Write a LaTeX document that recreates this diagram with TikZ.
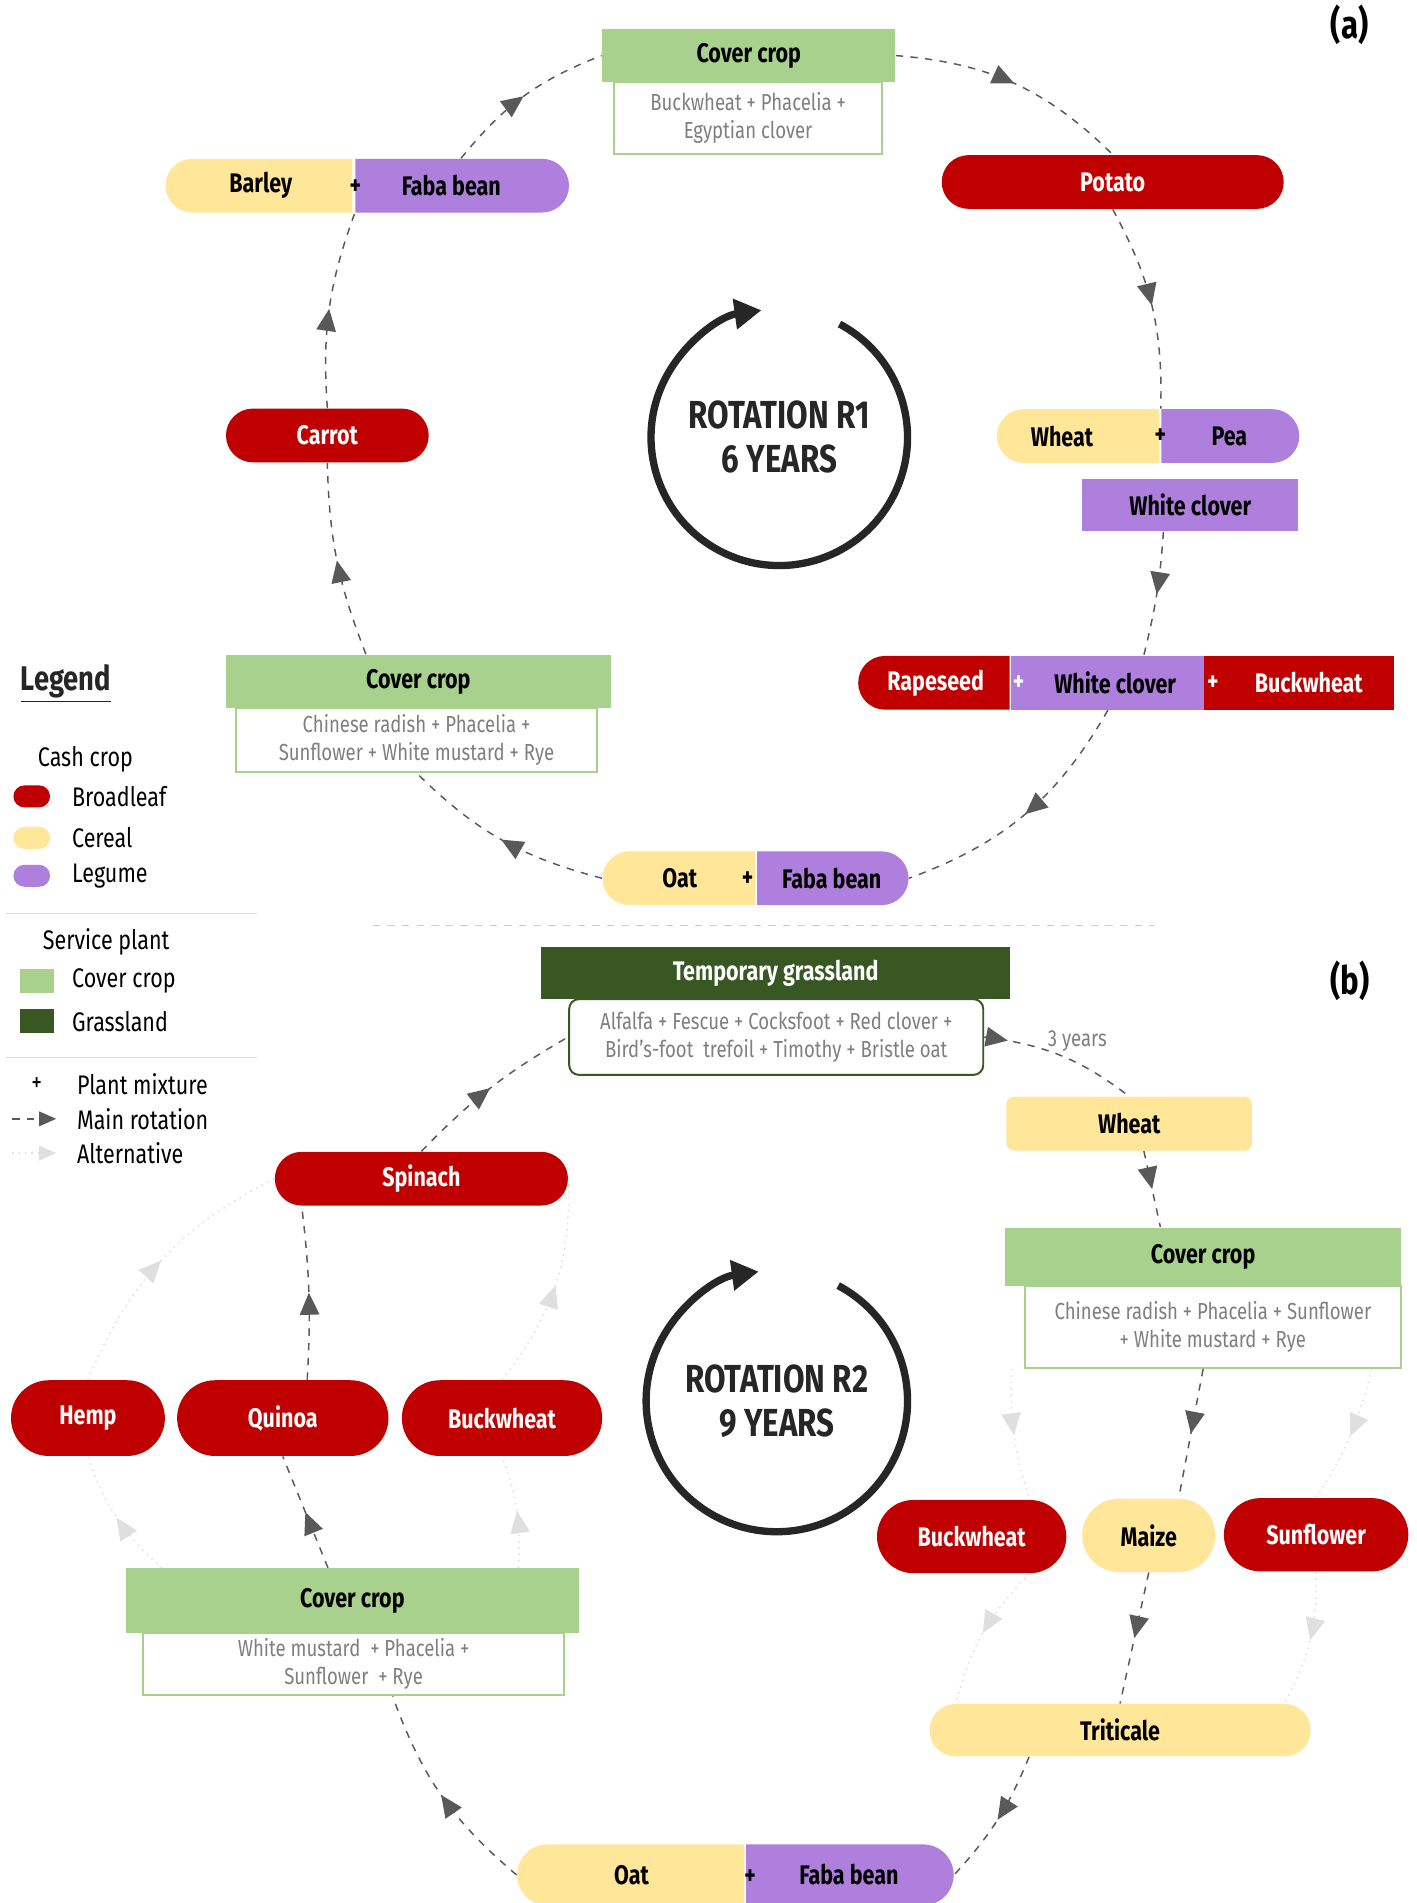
\documentclass[tikz,border=0pt]{standalone}
\usepackage{fontspec}
\setmainfont{Fira Sans}[FakeStretch=0.8]
\usetikzlibrary{calc,shapes.misc,shapes.geometric,arrows.meta,decorations.markings}
\definecolor{broad}{HTML}{C00000}
\definecolor{cereal}{HTML}{FFE699}
\definecolor{legume}{HTML}{AE7FDC}
\definecolor{cover}{HTML}{A9D18E}
\definecolor{grass}{HTML}{385723}
\definecolor{txtgray}{HTML}{7F7F7F}
\definecolor{ink}{HTML}{262626}
\tikzset{
  lab/.style={font=\bfseries\fontsize{11}{12}\selectfont},
  cash/.style={rounded rectangle, fill=#1, lab, inner sep=0pt, minimum height=22pt},
  svc/.style={rectangle, fill=#1, lab, inner sep=0pt, minimum height=22pt},
  mix/.style={draw=#1, fill=white, text=txtgray, font=\fontsize{9.5}{11.5}\selectfont,
    align=center, inner sep=0pt, line width=0.8pt},
  main/.style={draw=gray!70!black, dashed, line width=0.6pt, postaction={decorate},
    decoration={markings, mark=at position #1 with {\arrow[solid,fill=gray!70!black]{Triangle[length=9pt,width=8pt]}}}},
  main/.default=0.5,
  alt/.style={draw=gray!25, dotted, line width=0.6pt, postaction={decorate},
    decoration={markings, mark=at position #1 with {\arrow[solid,fill=gray!25]{Triangle[length=9pt,width=8pt]}}}},
  alt/.default=0.5,
  rot/.style={line width=3pt, ink, -{Triangle[length=11pt,width=12pt]}},
  rottxt/.style={font=\bfseries\fontsize{16}{18}\selectfont, text=ink, align=center}
}
\begin{document}
\begin{tikzpicture}[x=0.5pt,y=0.5pt]
\fill[white] (0,0) rectangle (1160,-1558);
\useasboundingbox (0,0) rectangle (1160,-1558);

% ---------- (a)
\node[font=\bfseries\fontsize{16}{18}\selectfont] (lbla) at (1105,-20) {(a)};
\node[svc=cover, minimum width=120pt] (cc1) at (613,-45.5) {Cover crop};
\node[mix=cover, minimum width=109.5pt, minimum height=29.5pt] (cc1b) at (612.5,-96.5) {Buckwheat + Phacelia +\\Egyptian clover};
\node[cash=broad, text=white, minimum width=140pt] (potato) at (911,-149) {Potato};
\node[cash=legume, rounded rectangle left arc=none, minimum width=87.5pt] (faba1) at (377.5,-152) {\hspace{-8pt}Faba bean};
\node[cash=cereal, rounded rectangle right arc=none, minimum width=76.5pt] (barley) at (213.5,-152) {Barley};
\node[lab] (pl1) at (291,-153) {+};
\node[cash=broad, text=white, minimum width=83pt] (carrot) at (268,-356.5) {Carrot};
\node[cash=legume, rounded rectangle left arc=none, minimum width=56.5pt] (pea) at (1006.5,-357) {Pea};
\node[cash=cereal, rounded rectangle right arc=none, minimum width=66.5pt] (wheat1) at (883.5,-357) {\hspace{-14pt}Wheat};
\node[lab] (pl2) at (950,-357) {+};
\node[svc=legume, minimum width=88.5pt, minimum height=21.5pt] (wclov1) at (974.5,-413.5) {White clover};
\node[cash=broad, text=white, rounded rectangle right arc=none, minimum width=62pt] (rape) at (766,-559) {Rapeseed};
\node[svc=legume, minimum width=79pt] (wclov2) at (907,-559) {\hspace{6pt}White clover};
\node[svc=broad, text=white, minimum width=77.5pt] (buckw1) at (1063.5,-559) {\hspace{8pt}Buckwheat};
\node[lab, text=white] (pl3) at (834,-559) {+};
\node[lab, text=white] (pl4) at (993,-559) {+};
\node[svc=cover, minimum width=157.5pt] (cc2) at (342.5,-558) {Cover crop};
\node[mix=cover, minimum width=148pt, minimum height=26pt] (cc2b) at (341,-606) {Chinese radish + Phacelia +\\Sunflower + White mustard + Rye};
\node[cash=legume, rounded rectangle left arc=none, minimum width=62pt] (faba2) at (681,-719) {Faba bean};
\node[cash=cereal, rounded rectangle right arc=none, minimum width=62.5pt] (oat1) at (556.5,-719) {Oat};
\node[lab] (pl5) at (612,-720) {+};
\coordinate (r1) at (638,-358);
\draw[rot] ($(r1)+(62:52.5pt)$) arc (62:-262:52.5pt);
\node[rottxt] (rot1) at (r1) {ROTATION R1\\6 YEARS};

\draw[main] (cc1.east) to[bend left=20] (potato.north);
\draw[main] (potato.south) to[bend left=15] (pea.north west);
\draw[main] ($(wclov1.south)+(-22,0)$) to[bend left=5] ($(wclov2.north east)+(-50,0)$);
\draw[main] (wclov2.south) to[bend left=20] (faba2.east);
\draw[main] (oat1.west) to[bend left=15] (cc2b.south);
\draw[main] (cc2.north west) ++(115,0) to[bend left=10] (carrot.south);
\draw[main] (carrot.north) to[bend left=12] (faba1.south west);
\draw[main] (faba1.north) to[bend left=15] (cc1.west);

% ---------- (b)
\draw[gray!40, dashed] (305,-758) -- (945,-758);
\node[font=\bfseries\fontsize{16}{18}\selectfont] (lblb) at (1105,-803) {(b)};
\node[svc=grass, text=white, minimum width=192pt, minimum height=21.5pt] (tg) at (635,-796.5) {Temporary grassland};
\node[mix=grass, rounded corners=4pt, minimum width=169.5pt, minimum height=31pt] (tgb) at (635.5,-849) {Alfalfa + Fescue + Cocksfoot + Red clover +\\Bird's-foot\ \ trefoil + Timothy + Bristle oat};
\node[text=txtgray, font=\fontsize{9.5}{11}\selectfont] (yrs) at (882,-852) {3 years};
\node[svc=cereal, rounded corners=3pt, minimum width=100.5pt] (wheat2) at (924.5,-920) {Wheat};
\node[svc=cover, minimum width=162pt, minimum height=24pt] (cc3) at (985,-1029) {Cover crop};
\node[mix=cover, minimum width=154pt, minimum height=33.5pt] (cc3b) at (993,-1086.5) {Chinese radish + Phacelia + Sunflower\\+ White mustard + Rye};
\node[cash=broad, text=white, minimum width=77.5pt, minimum height=30pt] (buckw2) at (795.5,-1258) {Buckwheat};
\node[cash=cereal, minimum width=54.5pt, minimum height=30pt] (maize) at (940.5,-1257) {Maize};
\node[cash=broad, text=white, minimum width=75.5pt, minimum height=30pt] (sunfl) at (1077.5,-1256.5) {Sunflower};
\node[cash=cereal, minimum width=156pt, minimum height=21.5pt] (trit) at (917,-1416.5) {Triticale};
\node[cash=legume, rounded rectangle left arc=none, minimum width=85pt, minimum height=25pt] (faba3) at (695,-1535) {Faba bean};
\node[cash=cereal, rounded rectangle right arc=none, minimum width=93pt, minimum height=25pt] (oat2) at (517,-1535) {Oat};
\node[lab] (pl6) at (614,-1537) {+};
\node[svc=cover, minimum width=185.5pt, minimum height=26.5pt] (cc4) at (288.5,-1310.5) {Cover crop};
\node[mix=cover, minimum width=172.5pt, minimum height=25.5pt] (cc4b) at (289.5,-1362.5) {White mustard\ \ + Phacelia +\\Sunflower\ \ + Rye};
\node[cash=broad, text=white, minimum width=63pt, minimum height=31pt] (hemp) at (72,-1161) {Hemp};
\node[cash=broad, text=white, minimum width=86.5pt, minimum height=31pt] (quinoa) at (231.5,-1161) {Quinoa};
\node[cash=broad, text=white, minimum width=82pt, minimum height=31pt] (buckw3) at (411,-1161) {Buckwheat};
\node[cash=broad, text=white, minimum width=120pt] (spinach) at (345,-965) {Spinach};
\coordinate (r2) at (636,-1147);
\draw[rot] ($(r2)+(62:53.5pt)$) arc (62:-262:53.5pt);
\node[rottxt] (rot2) at (r2) {ROTATION R2\\9 YEARS};

\draw[main=0.15] (tgb.east) to[bend left=15] (wheat2.north);
\draw[main] (wheat2.south) ++(12,0) -- (cc3.north west -| 950,0);
\draw[main] (cc3b.south) ++(-8,0) -- (maize.north east);
\draw[main] (maize.south) -- (trit.north);
\draw[main] (trit.south west) ++(60,0) to[bend left=10] (faba3.east);
\draw[main] (oat2.west) to[bend left=15] ($(cc4b.south)+(32,0)$);
\draw[main] (cc4.north) ++(-20,0) -- (quinoa.south);
\draw[main] (quinoa.north) ++(20,0) to[bend right=5] (spinach.south west);
\draw[main] (spinach.north) to[bend left=8] (tgb.west);
\draw[alt] (cc3b.south west) ++(-10,0) to[bend right=10] (buckw2.north east);
\draw[alt] (buckw2.south east) to[bend right=15] (trit.north west);
\draw[alt] (cc3b.south east) ++(-25,0) to[bend left=10] (sunfl.north);
\draw[alt] (sunfl.south) to[bend left=15] (trit.north east);
\draw[alt] (cc4.north west) ++(30,0) to[bend left=15] (hemp.south);
\draw[alt] (cc4.north east) ++(-50,0) to[bend right=12] (buckw3.south);
\draw[alt] (hemp.north) to[bend left=20] (spinach.west);
\draw[alt] (buckw3.north) to[bend right=20] (spinach.east);

% ---------- legend
\node[anchor=west, font=\bfseries\fontsize{14}{16}\selectfont, text=ink] (leg) at (10,-560) {\underline{Legend}};
\node[anchor=west, font=\fontsize{11}{13}\selectfont] (lcash) at (24,-622) {Cash crop};
\node[cash=broad, minimum width=15pt, minimum height=9pt] (ib) at (26,-652) {};
\node[cash=cereal, minimum width=15pt, minimum height=9pt] (ic) at (26,-686) {};
\node[cash=legume, minimum width=15pt, minimum height=9pt] (il) at (26,-717) {};
\node[anchor=west, font=\fontsize{11}{13}\selectfont] (tb) at (52,-652) {Broadleaf};
\node[anchor=west, font=\fontsize{11}{13}\selectfont] (tc) at (52,-686) {Cereal};
\node[anchor=west, font=\fontsize{11}{13}\selectfont] (tl) at (52,-717) {Legume};
\draw[gray!30] (5,-748) -- (210,-748);
\node[anchor=west, font=\fontsize{11}{13}\selectfont] (lsvc) at (28,-771) {Service plant};
\node[svc=cover, minimum width=14pt, minimum height=10pt] (icc) at (30,-803) {};
\node[svc=grass, minimum width=14pt, minimum height=10pt] (igr) at (30,-836) {};
\node[anchor=west, font=\fontsize{11}{13}\selectfont] (tcc) at (52,-803) {Cover crop};
\node[anchor=west, font=\fontsize{11}{13}\selectfont] (tgr) at (52,-836) {Grassland};
\draw[gray!30] (5,-866) -- (210,-866);
\node[font=\fontsize{11}{13}\selectfont] (ipl) at (30,-888) {+};
\node[anchor=west, font=\fontsize{11}{13}\selectfont] (tpl) at (56,-888) {Plant mixture};
\coordinate (m1) at (10,-916); \coordinate (m2) at (46,-916);
\coordinate (a1) at (10,-944); \coordinate (a2) at (46,-944);
\draw[gray!70!black, dashed, line width=0.6pt, -{Triangle[length=7pt,width=6pt]}] (m1) -- (m2);
\draw[gray!25, dotted, line width=0.6pt, -{Triangle[length=7pt,width=6pt]}] (a1) -- (a2);
\node[anchor=west, font=\fontsize{11}{13}\selectfont] (tmr) at (56,-916) {Main rotation};
\node[anchor=west, font=\fontsize{11}{13}\selectfont] (tal) at (56,-944) {Alternative};
\end{tikzpicture}
\end{document}
